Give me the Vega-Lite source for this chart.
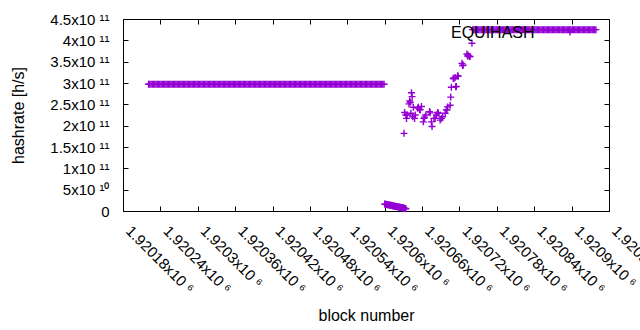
{
"$schema": "https://vega.github.io/schema/vega-lite/v6.json",
"width": 486, "height": 192,
"autosize": "none",
"padding": {"left": 123, "top": 19, "right": 31, "bottom": 119},
"config": {
  "font": "Liberation Sans",
  "view": {"stroke": "black", "strokeWidth": 1},
  "axis": {"domain": false, "grid": false, "tickColor": "black", "tickSize": -5, "labelColor": "black", "titleColor": "black", "labelFontSize": 15, "titleFontSize": 16, "titleFontWeight": "normal", "labelFont": "Liberation Sans", "titleFont": "Liberation Sans"}
},
"data": {"values": [
{"b":1920221,"h":2.97e11},{"b":1920223,"h":2.97e11},{"b":1920225,"h":2.97e11},{"b":1920227,"h":2.97e11},{"b":1920229,"h":2.97e11},
{"b":1920231,"h":2.97e11},{"b":1920233,"h":2.97e11},{"b":1920235,"h":2.97e11},{"b":1920237,"h":2.97e11},{"b":1920239,"h":2.97e11},
{"b":1920241,"h":2.97e11},{"b":1920243,"h":2.97e11},{"b":1920245,"h":2.97e11},{"b":1920247,"h":2.97e11},{"b":1920249,"h":2.97e11},
{"b":1920251,"h":2.97e11},{"b":1920253,"h":2.97e11},{"b":1920255,"h":2.97e11},{"b":1920257,"h":2.97e11},{"b":1920259,"h":2.97e11},
{"b":1920261,"h":2.97e11},{"b":1920263,"h":2.97e11},{"b":1920265,"h":2.97e11},{"b":1920267,"h":2.97e11},{"b":1920269,"h":2.97e11},
{"b":1920271,"h":2.97e11},{"b":1920273,"h":2.97e11},{"b":1920275,"h":2.97e11},{"b":1920277,"h":2.97e11},{"b":1920279,"h":2.97e11},
{"b":1920281,"h":2.97e11},{"b":1920283,"h":2.97e11},{"b":1920285,"h":2.97e11},{"b":1920287,"h":2.97e11},{"b":1920289,"h":2.97e11},
{"b":1920291,"h":2.97e11},{"b":1920293,"h":2.97e11},{"b":1920295,"h":2.97e11},{"b":1920297,"h":2.97e11},{"b":1920299,"h":2.97e11},
{"b":1920301,"h":2.97e11},{"b":1920303,"h":2.97e11},{"b":1920305,"h":2.97e11},{"b":1920307,"h":2.97e11},{"b":1920309,"h":2.97e11},
{"b":1920311,"h":2.97e11},{"b":1920313,"h":2.97e11},{"b":1920315,"h":2.97e11},{"b":1920317,"h":2.97e11},{"b":1920319,"h":2.97e11},
{"b":1920321,"h":2.97e11},{"b":1920323,"h":2.97e11},{"b":1920325,"h":2.97e11},{"b":1920327,"h":2.97e11},{"b":1920329,"h":2.97e11},
{"b":1920331,"h":2.97e11},{"b":1920333,"h":2.97e11},{"b":1920335,"h":2.97e11},{"b":1920337,"h":2.97e11},{"b":1920339,"h":2.97e11},
{"b":1920341,"h":2.97e11},{"b":1920343,"h":2.97e11},{"b":1920345,"h":2.97e11},{"b":1920347,"h":2.97e11},{"b":1920349,"h":2.97e11},
{"b":1920351,"h":2.97e11},{"b":1920353,"h":2.97e11},{"b":1920355,"h":2.97e11},{"b":1920357,"h":2.97e11},{"b":1920359,"h":2.97e11},
{"b":1920361,"h":2.97e11},{"b":1920363,"h":2.97e11},{"b":1920365,"h":2.97e11},{"b":1920367,"h":2.97e11},{"b":1920369,"h":2.97e11},
{"b":1920371,"h":2.97e11},{"b":1920373,"h":2.97e11},{"b":1920375,"h":2.97e11},{"b":1920377,"h":2.97e11},{"b":1920379,"h":2.97e11},
{"b":1920381,"h":2.97e11},{"b":1920383,"h":2.97e11},{"b":1920385,"h":2.97e11},{"b":1920387,"h":2.97e11},{"b":1920389,"h":2.97e11},
{"b":1920391,"h":2.97e11},{"b":1920393,"h":2.97e11},{"b":1920395,"h":2.97e11},{"b":1920397,"h":2.97e11},{"b":1920399,"h":2.97e11},
{"b":1920401,"h":2.97e11},{"b":1920403,"h":2.97e11},{"b":1920405,"h":2.97e11},{"b":1920407,"h":2.97e11},{"b":1920409,"h":2.97e11},
{"b":1920411,"h":2.97e11},{"b":1920413,"h":2.97e11},{"b":1920415,"h":2.97e11},{"b":1920417,"h":2.97e11},{"b":1920419,"h":2.97e11},
{"b":1920421,"h":2.97e11},{"b":1920423,"h":2.97e11},{"b":1920425,"h":2.97e11},{"b":1920427,"h":2.97e11},{"b":1920429,"h":2.97e11},
{"b":1920431,"h":2.97e11},{"b":1920433,"h":2.97e11},{"b":1920435,"h":2.97e11},{"b":1920437,"h":2.97e11},{"b":1920439,"h":2.97e11},
{"b":1920441,"h":2.97e11},{"b":1920443,"h":2.97e11},{"b":1920445,"h":2.97e11},{"b":1920447,"h":2.97e11},{"b":1920449,"h":2.97e11},
{"b":1920451,"h":2.97e11},{"b":1920453,"h":2.97e11},{"b":1920455,"h":2.97e11},{"b":1920457,"h":2.97e11},{"b":1920459,"h":2.97e11},
{"b":1920461,"h":2.97e11},{"b":1920463,"h":2.97e11},{"b":1920465,"h":2.97e11},{"b":1920467,"h":2.97e11},{"b":1920469,"h":2.97e11},
{"b":1920471,"h":2.97e11},{"b":1920473,"h":2.97e11},{"b":1920475,"h":2.97e11},{"b":1920477,"h":2.97e11},{"b":1920479,"h":2.97e11},
{"b":1920481,"h":2.97e11},{"b":1920483,"h":2.97e11},{"b":1920485,"h":2.97e11},{"b":1920487,"h":2.97e11},{"b":1920489,"h":2.97e11},
{"b":1920491,"h":2.97e11},{"b":1920493,"h":2.97e11},{"b":1920495,"h":2.97e11},{"b":1920497,"h":2.97e11},{"b":1920499,"h":2.97e11},
{"b":1920501,"h":2.97e11},{"b":1920503,"h":2.97e11},{"b":1920505,"h":2.97e11},{"b":1920507,"h":2.97e11},{"b":1920509,"h":2.97e11},
{"b":1920511,"h":2.97e11},{"b":1920513,"h":2.97e11},{"b":1920515,"h":2.97e11},{"b":1920517,"h":2.97e11},{"b":1920519,"h":2.97e11},
{"b":1920521,"h":2.97e11},{"b":1920523,"h":2.97e11},{"b":1920525,"h":2.97e11},{"b":1920527,"h":2.97e11},{"b":1920529,"h":2.97e11},
{"b":1920531,"h":2.97e11},{"b":1920533,"h":2.97e11},{"b":1920535,"h":2.97e11},{"b":1920537,"h":2.97e11},{"b":1920539,"h":2.97e11},
{"b":1920541,"h":2.97e11},{"b":1920543,"h":2.97e11},{"b":1920545,"h":2.97e11},{"b":1920547,"h":2.97e11},{"b":1920549,"h":2.97e11},
{"b":1920551,"h":2.97e11},{"b":1920553,"h":2.97e11},{"b":1920555,"h":2.97e11},{"b":1920557,"h":2.97e11},{"b":1920559,"h":2.97e11},
{"b":1920561,"h":2.97e11},{"b":1920563,"h":2.97e11},{"b":1920565,"h":2.97e11},{"b":1920567,"h":2.97e11},{"b":1920569,"h":2.97e11},
{"b":1920571,"h":2.97e11},{"b":1920573,"h":2.97e11},{"b":1920575,"h":2.97e11},{"b":1920577,"h":2.97e11},{"b":1920579,"h":2.97e11},
{"b":1920581,"h":2.97e11},{"b":1920583,"h":2.97e11},{"b":1920585,"h":2.97e11},{"b":1920587,"h":2.97e11},{"b":1920589,"h":2.97e11},
{"b":1920591,"h":2.97e11},{"b":1920593,"h":2.97e11},{"b":1920595,"h":2.97e11},{"b":1920597,"h":2.97e11},{"b":1920599,"h":2.97e11},
{"b":1920600,"h":1.62e10},{"b":1920601,"h":1.56e10},{"b":1920602,"h":1.58e10},{"b":1920603,"h":1.5e10},{"b":1920604,"h":1.53e10},
{"b":1920605,"h":1.45e10},{"b":1920606,"h":1.47e10},{"b":1920607,"h":1.38e10},{"b":1920608,"h":1.41e10},{"b":1920609,"h":1.33e10},
{"b":1920610,"h":1.3e10},{"b":1920611,"h":1.32e10},{"b":1920612,"h":1.22e10},{"b":1920613,"h":1.25e10},{"b":1920614,"h":1.16e10},
{"b":1920615,"h":1.18e10},{"b":1920616,"h":1.1e10},{"b":1920617,"h":1.12e10},{"b":1920618,"h":1.04e10},{"b":1920619,"h":1.06e10},
{"b":1920620,"h":0.98e10},{"b":1920621,"h":1.0e10},{"b":1920622,"h":0.92e10},{"b":1920623,"h":0.94e10},{"b":1920624,"h":0.86e10},
{"b":1920625,"h":0.88e10},{"b":1920626,"h":0.8e10},{"b":1920627,"h":0.82e10},{"b":1920628,"h":0.74e10},{"b":1920629,"h":0.76e10},
{"b":1920630,"h":0.69e10},{"b":1920631,"h":0.66e10},{"b":1920632,"h":0.62e10},{"b":1920633,"h":0.6e10},{"b":1920634,"h":0.52e10},
{"b":1920631,"h":1.82e11},{"b":1920632,"h":2.31e11},{"b":1920634,"h":2.25e11},{"b":1920635,"h":2.17e11},{"b":1920636,"h":2.25e11},
{"b":1920639,"h":2.51e11},{"b":1920640,"h":2.58e11},{"b":1920641,"h":2.55e11},{"b":1920642,"h":2.29e11},{"b":1920643,"h":2.77e11},
{"b":1920644,"h":2.68e11},{"b":1920645,"h":2.21e11},{"b":1920646,"h":2.43e11},{"b":1920648,"h":2.17e11},{"b":1920649,"h":2.25e11},
{"b":1920653,"h":2.41e11},{"b":1920654,"h":2.43e11},{"b":1920656,"h":2.38e11},{"b":1920657,"h":2.37e11},{"b":1920659,"h":2.45e11},
{"b":1920662,"h":2.09e11},{"b":1920663,"h":2.17e11},{"b":1920664,"h":2.2e11},{"b":1920666,"h":2.25e11},{"b":1920672,"h":2.33e11},
{"b":1920673,"h":2.3e11},{"b":1920675,"h":2.09e11},{"b":1920676,"h":1.98e11},{"b":1920679,"h":2.17e11},{"b":1920681,"h":2.17e11},
{"b":1920683,"h":2.25e11},{"b":1920685,"h":2.31e11},{"b":1920686,"h":2.29e11},{"b":1920689,"h":2.13e11},{"b":1920691,"h":2.17e11},
{"b":1920693,"h":2.21e11},{"b":1920697,"h":2.29e11},{"b":1920699,"h":2.37e11},{"b":1920700,"h":2.37e11},{"b":1920701,"h":2.44e11},
{"b":1920705,"h":2.48e11},{"b":1920706,"h":2.67e11},{"b":1920707,"h":2.9e11},{"b":1920710,"h":3.11e11},{"b":1920711,"h":3.1e11},
{"b":1920713,"h":3.13e11},{"b":1920714,"h":2.91e11},{"b":1920715,"h":2.92e11},{"b":1920717,"h":3.17e11},{"b":1920718,"h":3.16e11},
{"b":1920724,"h":3.46e11},{"b":1920725,"h":3.41e11},{"b":1920726,"h":3.42e11},{"b":1920732,"h":3.68e11},{"b":1920733,"h":3.63e11},
{"b":1920734,"h":3.65e11},{"b":1920736,"h":3.62e11},{"b":1920737,"h":3.62e11},{"b":1920740,"h":3.93e11},
{"b":1920741,"h":4.25e11},{"b":1920743,"h":4.25e11},{"b":1920745,"h":4.25e11},{"b":1920747,"h":4.25e11},{"b":1920749,"h":4.25e11},
{"b":1920751,"h":4.25e11},{"b":1920753,"h":4.25e11},{"b":1920755,"h":4.25e11},{"b":1920757,"h":4.25e11},{"b":1920759,"h":4.25e11},
{"b":1920761,"h":4.25e11},{"b":1920763,"h":4.25e11},{"b":1920765,"h":4.25e11},{"b":1920767,"h":4.25e11},{"b":1920769,"h":4.25e11},
{"b":1920771,"h":4.25e11},{"b":1920773,"h":4.25e11},{"b":1920775,"h":4.25e11},{"b":1920777,"h":4.25e11},{"b":1920779,"h":4.25e11},
{"b":1920781,"h":4.25e11},{"b":1920783,"h":4.25e11},{"b":1920785,"h":4.25e11},{"b":1920787,"h":4.25e11},{"b":1920789,"h":4.25e11},
{"b":1920791,"h":4.25e11},{"b":1920793,"h":4.25e11},{"b":1920795,"h":4.25e11},{"b":1920797,"h":4.25e11},{"b":1920799,"h":4.25e11},
{"b":1920801,"h":4.25e11},{"b":1920803,"h":4.25e11},{"b":1920805,"h":4.25e11},{"b":1920807,"h":4.25e11},{"b":1920809,"h":4.25e11},
{"b":1920811,"h":4.25e11},{"b":1920813,"h":4.25e11},{"b":1920815,"h":4.25e11},{"b":1920817,"h":4.25e11},{"b":1920819,"h":4.25e11},
{"b":1920821,"h":4.25e11},{"b":1920823,"h":4.25e11},{"b":1920825,"h":4.25e11},{"b":1920827,"h":4.25e11},{"b":1920829,"h":4.25e11},
{"b":1920831,"h":4.25e11},{"b":1920833,"h":4.25e11},{"b":1920835,"h":4.25e11},{"b":1920837,"h":4.25e11},{"b":1920839,"h":4.25e11},
{"b":1920841,"h":4.25e11},{"b":1920843,"h":4.25e11},{"b":1920845,"h":4.25e11},{"b":1920847,"h":4.25e11},{"b":1920849,"h":4.25e11},
{"b":1920851,"h":4.25e11},{"b":1920853,"h":4.25e11},{"b":1920855,"h":4.25e11},{"b":1920857,"h":4.25e11},{"b":1920859,"h":4.25e11},
{"b":1920861,"h":4.25e11},{"b":1920863,"h":4.25e11},{"b":1920865,"h":4.25e11},{"b":1920867,"h":4.25e11},{"b":1920869,"h":4.25e11},
{"b":1920871,"h":4.25e11},{"b":1920873,"h":4.25e11},{"b":1920875,"h":4.25e11},{"b":1920877,"h":4.25e11},{"b":1920879,"h":4.25e11},
{"b":1920881,"h":4.25e11},{"b":1920883,"h":4.25e11},{"b":1920885,"h":4.25e11},{"b":1920887,"h":4.25e11},{"b":1920889,"h":4.25e11},
{"b":1920891,"h":4.25e11},{"b":1920893,"h":4.25e11},{"b":1920895,"h":4.25e11},{"b":1920897,"h":4.25e11},{"b":1920899,"h":4.25e11},
{"b":1920901,"h":4.25e11},{"b":1920903,"h":4.25e11},{"b":1920905,"h":4.25e11},{"b":1920907,"h":4.25e11},{"b":1920909,"h":4.25e11},
{"b":1920911,"h":4.25e11},{"b":1920913,"h":4.25e11},{"b":1920915,"h":4.25e11},{"b":1920917,"h":4.25e11},{"b":1920919,"h":4.25e11},
{"b":1920921,"h":4.25e11},{"b":1920923,"h":4.25e11},{"b":1920925,"h":4.25e11},{"b":1920927,"h":4.25e11},{"b":1920929,"h":4.25e11},
{"b":1920931,"h":4.25e11},{"b":1920933,"h":4.25e11},{"b":1920935,"h":4.25e11},{"b":1920937,"h":4.25e11},{"b":1920939,"h":4.25e11}
]},
"layer": [
  {
    "mark": {"type": "point", "shape": "M-1,0H1M0,-1V1", "filled": false, "strokeWidth": 1.4, "size": 49, "opacity": 1},
    "encoding": {
      "x": {"field": "b", "type": "quantitative",
        "scale": {"domain": [1920180, 1920960], "nice": false, "zero": false},
        "axis": {"values": [1920180,1920240,1920300,1920360,1920420,1920480,1920540,1920600,1920660,1920720,1920780,1920840,1920900,1920960],
          "labelAngle": 45, "labelAlign": "left", "labelBaseline": "top", "labelPadding": 17, "labelOffset": 10, "labelFlush": false, "labelOverlap": false, "labelBound": false,
          "labelExpr": "format(datum.value/1e6,'.5~f') + 'x10 ⁶'",
          "title": "block number", "titleY": 104, "titleBaseline": "middle"}},
      "y": {"field": "h", "type": "quantitative",
        "scale": {"domain": [0, 4.5e11], "nice": false},
        "axis": {"values": [0,5e10,1e11,1.5e11,2e11,2.5e11,3e11,3.5e11,4e11,4.5e11],
          "labelPadding": 19, "labelOverlap": false, "labelFlush": false,
          "labelExpr": "datum.value == 0 ? '0' : (datum.value < 1e11 ? format(datum.value/1e10,'~g') + 'x10 ¹⁰\u00a0\u00a0' : format(datum.value/1e11,'~g') + 'x10 ¹¹\u00a0\u00a0')",
          "title": "hashrate [h/s]", "titleX": -105, "titleY": 96, "titleBaseline": "middle"}},
      "color": {"datum": "EQUIHASH", "scale": {"range": ["#9400d3"]},
        "legend": {"title": "EQUIHASH", "titleOrient": "left", "titleFontSize": 16, "titleFontWeight": "normal", "titleColor": "black", "titlePadding": 30,
          "labelExpr": "''", "orient": "none", "legendX": 328, "legendY": 8,
          "symbolType": "M-1,0H1M0,-1V1", "symbolSize": 49, "symbolStrokeWidth": 1.4, "symbolFillColor": "transparent"}}
    }
  },
  {
    "data": {"values": []},
    "mark": {"type": "point", "opacity": 0},
    "encoding": {
      "x": {"field": "b", "type": "quantitative",
        "scale": {"domain": [1920180, 1920960], "nice": false, "zero": false},
        "axis": {"orient": "top", "labels": false, "title": null, "values": [1920180,1920240,1920300,1920360,1920420,1920480,1920540,1920600,1920660,1920720,1920780,1920840,1920900,1920960]}},
      "y": {"field": "h", "type": "quantitative",
        "scale": {"domain": [0, 4.5e11], "nice": false},
        "axis": {"orient": "right", "labels": false, "title": null, "values": [0,5e10,1e11,1.5e11,2e11,2.5e11,3e11,3.5e11,4e11,4.5e11]}}
    }
  }
],
"resolve": {"axis": {"x": "independent", "y": "independent"}}
}
